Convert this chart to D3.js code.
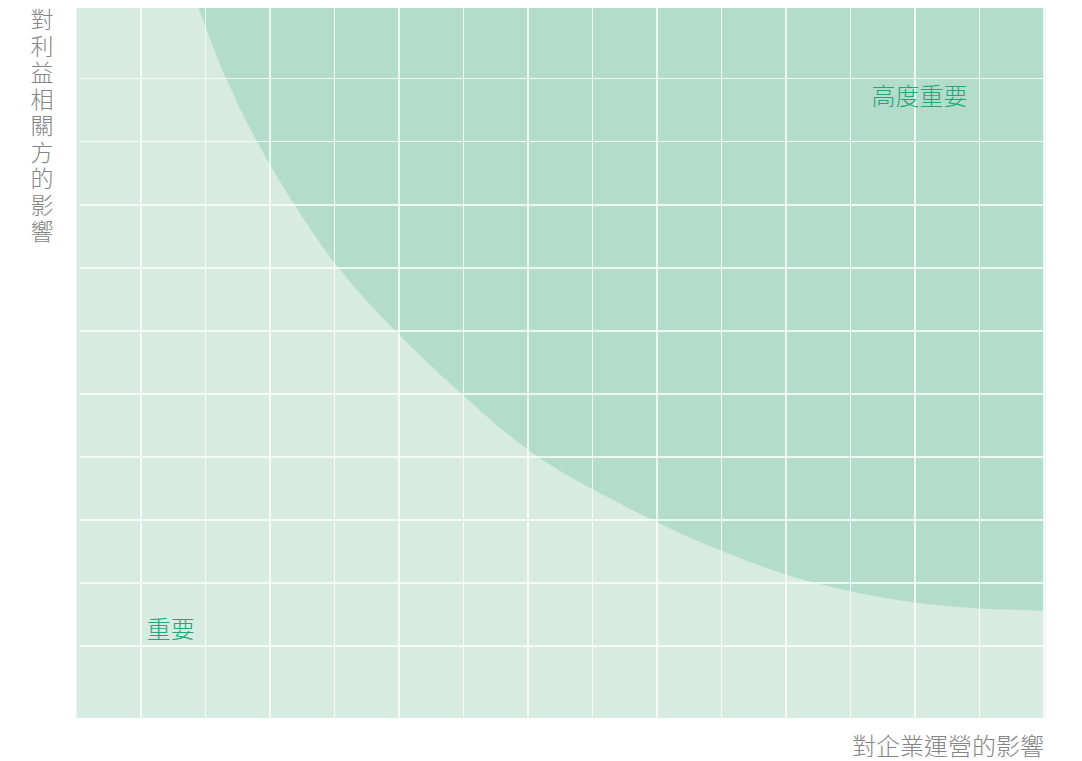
<!DOCTYPE html>
<meta charset="utf-8">
<style>
body { margin: 0; background: #fff; }
text { font-family: "Noto Sans CJK TC", "Noto Sans CJK SC", sans-serif; }
.grid line { stroke: #fff; stroke-opacity: 0.75; stroke-width: 1.6; shape-rendering: crispEdges; }
.zone-label { fill: #22a878; font-size: 24px; font-weight: 300; }
.axis-label { fill: #858585; font-size: 23px; font-weight: 300; }
</style>
<body>
<script src="https://cdn.jsdelivr.net/npm/d3@7"></script>
<script>
// grid cells
var xTicks = d3.range(1, 16);
var yTicks = d3.range(1, 11);
var xDomain = [0, 15];
var yDomain = [-0.14, 11.12];

// boundary of the "high importance" zone
var curveX = [1.89, 2.32, 2.8, 3.38, 4.06, 4.94, 5.97, 7.16, 8.93, 9.98, 11.01, 12.0, 13.0, 14.0, 15.0];
var curveY = [11.12, 10, 9, 8, 7, 6, 5, 4, 3, 2.52, 2.13, 1.87, 1.69, 1.595, 1.565];

var labels = { high: "高度重要", low: "重要", xAxis: "對企業運營的影響", yAxis: "對利益相關方的影響" };

var width = 1082, height = 761;
var margin = {top: 8, right: 38, bottom: 43, left: 76.5};

var svg = d3.select("body").append("svg")
    .attr("width", width)
    .attr("height", height);

var x = d3.scaleLinear().domain(xDomain).range([margin.left, width - margin.right]);
var y = d3.scaleLinear().domain(yDomain).range([height - margin.bottom, margin.top]);

// light background
svg.append("rect")
    .attr("x", x(xDomain[0]))
    .attr("y", y(yDomain[1]))
    .attr("width", x(xDomain[1]) - x(xDomain[0]) + 1.5)
    .attr("height", y(yDomain[0]) - y(yDomain[1]))
    .attr("fill", "#d7ebe3");

var pts = curveX.map(function(d, i) { return [d, curveY[i]]; });

var area = d3.area()
    .x(function(d) { return x(d[0]); })
    .y0(y(yDomain[1]))
    .y1(function(d) { return y(d[1]); })
    .curve(d3.curveCatmullRom.alpha(0.5));

svg.append("path")
    .datum(pts)
    .attr("d", area)
    .attr("fill", "#b3dccc");

var grid = svg.append("g").attr("class", "grid");

grid.selectAll(".v")
    .data(xTicks)
  .enter().append("line")
    .attr("class", "v")
    .attr("x1", function(d) { return x(d); })
    .attr("x2", function(d) { return x(d); })
    .attr("y1", y(yDomain[1]))
    .attr("y2", y(yDomain[0]));

grid.selectAll(".h")
    .data(yTicks)
  .enter().append("line")
    .attr("class", "h")
    .attr("x1", x(xDomain[0]) + 3.5)
    .attr("x2", x(xDomain[1]) + 1.5)
    .attr("y1", function(d) { return y(d); })
    .attr("y2", function(d) { return y(d); });

// zone labels
svg.append("text")
    .attr("class", "zone-label")
    .attr("x", x(13.07))
    .attr("y", y(10.01) + 27)
    .attr("text-anchor", "middle")
    .text(labels.high);

svg.append("text")
    .attr("class", "zone-label")
    .attr("x", x(1.09))
    .attr("y", y(1.13))
    .attr("text-anchor", "start")
    .text(labels.low);

// axis titles
svg.append("text")
    .attr("class", "axis-label")
    .attr("x", x(xDomain[1]))
    .attr("y", height - 6)
    .attr("text-anchor", "end")
    .style("font-size", "24px")
    .text(labels.xAxis);

svg.append("text")
    .attr("class", "axis-label")
    .attr("x", 42)
    .attr("y", 8)
    .style("writing-mode", "vertical-rl")
    .style("text-orientation", "upright")
    .style("letter-spacing", "3.5px")
    .text(labels.yAxis);
</script>
